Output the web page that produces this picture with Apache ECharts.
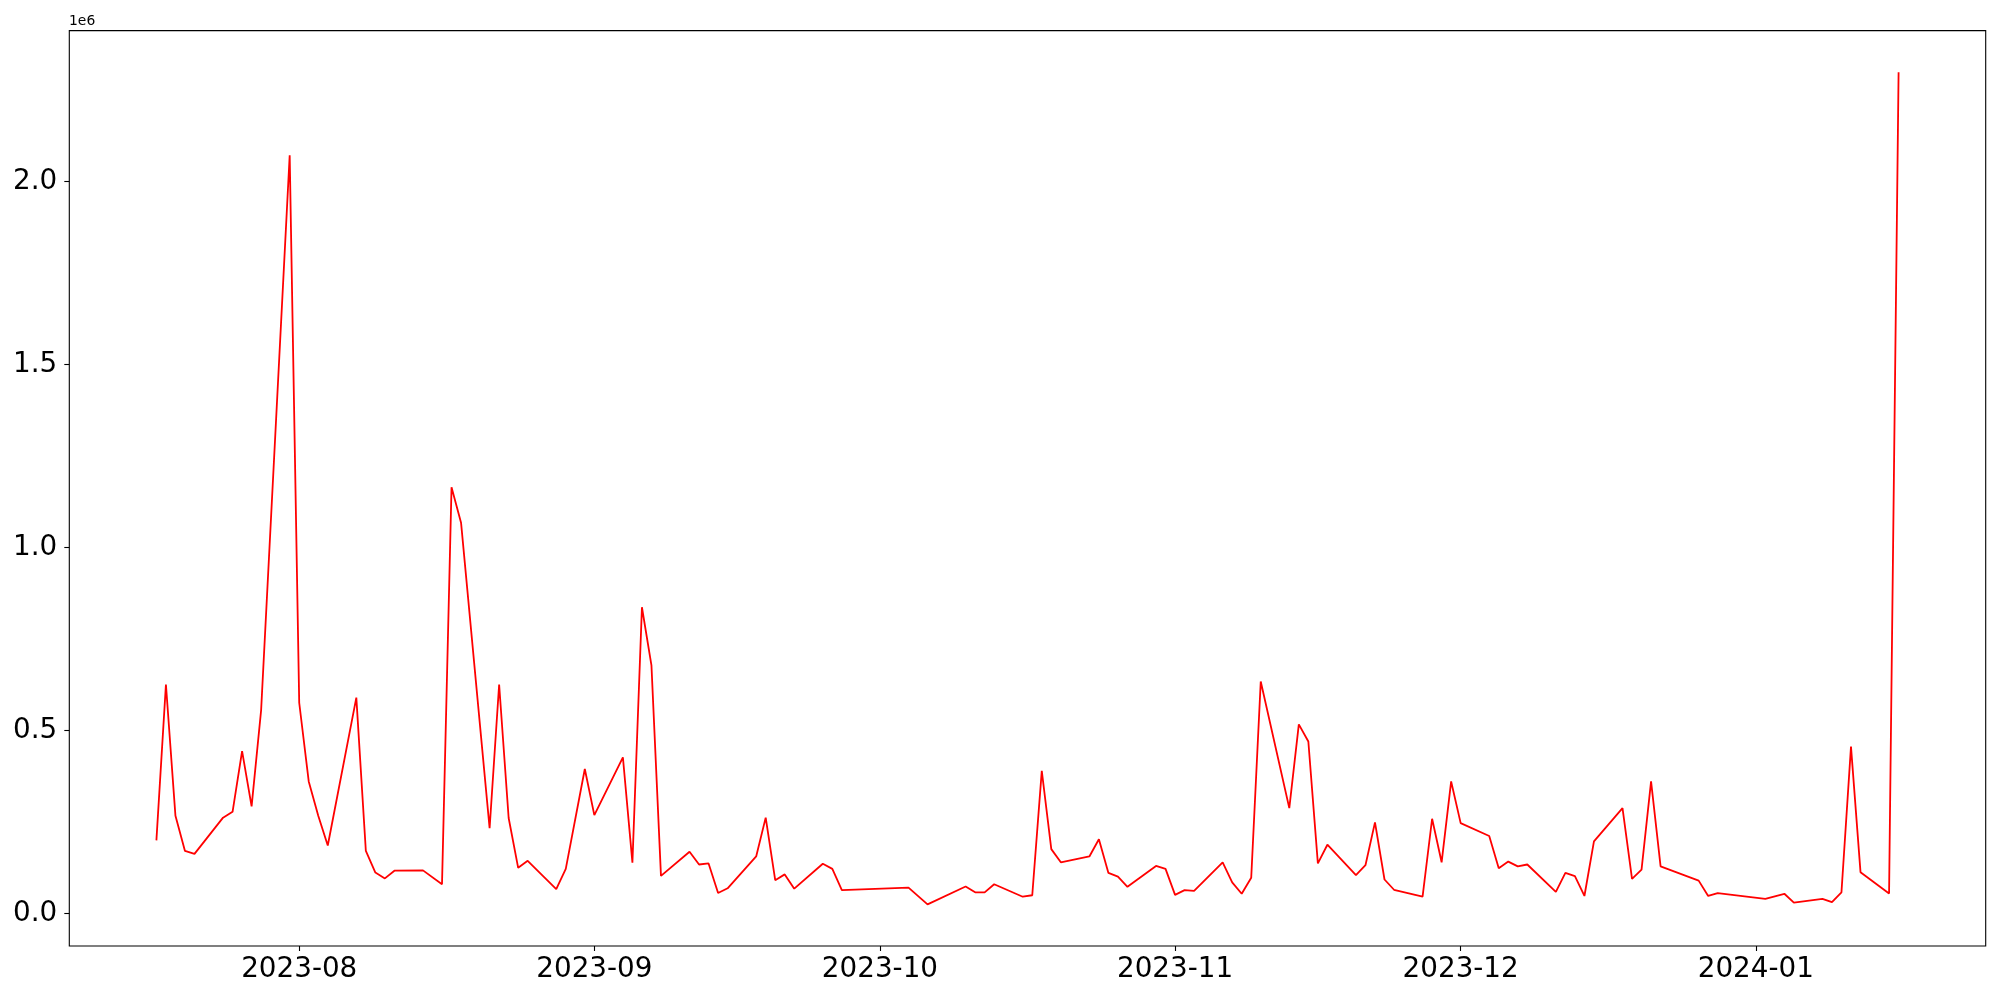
<!DOCTYPE html>
<html>
<head>
<meta charset="utf-8">
<script src="https://cdn.jsdelivr.net/npm/echarts@6/dist/echarts.min.js"></script>
<style>
html,body{margin:0;padding:0;background:#fff;}
#chart{width:2000px;height:1000px;}
</style>
</head>
<body>
<div id="chart"></div>
<script>
const dates = [
'2023-07-17','2023-07-18','2023-07-19','2023-07-20','2023-07-21','2023-07-24','2023-07-25','2023-07-26','2023-07-27','2023-07-28',
'2023-07-31','2023-08-01','2023-08-02','2023-08-03','2023-08-04','2023-08-07','2023-08-08','2023-08-09','2023-08-10','2023-08-11',
'2023-08-14','2023-08-16','2023-08-17','2023-08-18','2023-08-21','2023-08-22','2023-08-23','2023-08-24','2023-08-25','2023-08-28',
'2023-08-29','2023-08-31','2023-09-01','2023-09-04','2023-09-05','2023-09-06','2023-09-07','2023-09-08','2023-09-11','2023-09-12',
'2023-09-13','2023-09-14','2023-09-15','2023-09-18','2023-09-19','2023-09-20','2023-09-21','2023-09-22','2023-09-25','2023-09-26',
'2023-09-27','2023-10-04','2023-10-06','2023-10-10','2023-10-11','2023-10-12','2023-10-13','2023-10-16','2023-10-17','2023-10-18',
'2023-10-19','2023-10-20','2023-10-23','2023-10-24','2023-10-25','2023-10-26','2023-10-27','2023-10-30','2023-10-31','2023-11-01',
'2023-11-02','2023-11-03','2023-11-06','2023-11-07','2023-11-08','2023-11-09','2023-11-10','2023-11-13','2023-11-14','2023-11-15',
'2023-11-16','2023-11-17','2023-11-20','2023-11-21','2023-11-22','2023-11-23','2023-11-24','2023-11-27','2023-11-28','2023-11-29',
'2023-11-30','2023-12-01','2023-12-04','2023-12-05','2023-12-06','2023-12-07','2023-12-08','2023-12-11','2023-12-12','2023-12-13',
'2023-12-14','2023-12-15','2023-12-18','2023-12-19','2023-12-20','2023-12-21','2023-12-22','2023-12-26','2023-12-27','2023-12-28',
'2024-01-02','2024-01-04','2024-01-05','2024-01-08','2024-01-09','2024-01-10','2024-01-11','2024-01-12','2024-01-15','2024-01-16'
];
// values in units of 1e6
const values = [
0.200,0.626,0.267,0.171,0.163,0.262,0.278,0.444,0.293,0.556,
2.072,0.576,0.361,0.267,0.186,0.590,0.171,0.112,0.096,0.117,
0.118,0.080,1.165,1.068,0.233,0.626,0.261,0.125,0.144,0.067,
0.122,0.395,0.269,0.427,0.139,0.837,0.678,0.103,0.169,0.134,
0.137,0.056,0.069,0.156,0.262,0.091,0.107,0.068,0.136,0.122,
0.064,0.071,0.025,0.074,0.058,0.058,0.080,0.046,0.050,0.390,
0.176,0.140,0.156,0.203,0.111,0.101,0.073,0.130,0.122,0.051,
0.064,0.062,0.140,0.085,0.054,0.098,0.634,0.288,0.517,0.470,
0.137,0.188,0.105,0.132,0.249,0.093,0.065,0.046,0.259,0.140,
0.361,0.247,0.212,0.124,0.142,0.129,0.134,0.059,0.111,0.102,
0.048,0.197,0.288,0.095,0.120,0.361,0.129,0.090,0.048,0.056,
0.040,0.054,0.030,0.040,0.031,0.058,0.456,0.113,0.055,2.299
];
const xTickLabels = ['2023-08','2023-09','2023-10','2023-11','2023-12','2024-01'];
const yTickLabels = ['0.0','0.5','1.0','1.5','2.0'];
const yTickValues = [0, 0.5, 1.0, 1.5, 2.0];

function ts(s){ const p = s.split('-').map(Number); return Date.UTC(p[0], p[1]-1, p[2] || 1); }
const xs = dates.map(ts);
const xTickValues = xTickLabels.map(ts);
const seriesData = xs.map((x,i)=>[x, values[i]]);

const xMinD = Math.min(...xs), xMaxD = Math.max(...xs);
const xPad = (xMaxD - xMinD) * 0.05;
const yMinD = Math.min(...values), yMaxD = Math.max(...values);
const yPad = (yMaxD - yMinD) * 0.05;

const FONT = 'DejaVu Sans';
const chart = echarts.init(document.getElementById('chart'));
chart.setOption({
  animation: false,
  backgroundColor: '#ffffff',
  grid: {
    left: 69.3, right: 14.3, top: 30.6, bottom: 54,
    show: true, borderColor: '#000', borderWidth: 1.1, backgroundColor: 'transparent'
  },
  xAxis: {
    type: 'value',
    min: xMinD - xPad, max: xMaxD + xPad,
    splitLine: {show: false},
    axisLine: {show: false, onZero: false},
    axisTick: {show: true, customValues: xTickValues, length: 5, lineStyle: {color: '#000', width: 1.1}},
    axisLabel: {
      customValues: xTickValues,
      color: '#000', fontFamily: FONT, fontSize: 27.8, margin: 10,
      formatter: v => { const i = xTickValues.indexOf(v); return i >= 0 ? xTickLabels[i] : ''; }
    }
  },
  yAxis: {
    type: 'value',
    min: yMinD - yPad, max: yMaxD + yPad,
    splitLine: {show: false},
    axisLine: {show: false, onZero: false},
    axisTick: {show: true, customValues: yTickValues, length: 5, lineStyle: {color: '#000', width: 1.1}},
    axisLabel: {
      customValues: yTickValues,
      color: '#000', fontFamily: FONT, fontSize: 27.8, margin: 12,
      formatter: v => { const i = yTickValues.indexOf(v); return i >= 0 ? yTickLabels[i] : ''; }
    }
  },
  graphic: [{
    type: 'text', left: 69, top: 14,
    style: {text: '1e6', fontFamily: FONT, fontSize: 13.9, fill: '#000'}
  }],
  series: [{
    type: 'line',
    data: seriesData,
    showSymbol: false,
    symbol: 'none',
    lineStyle: {color: '#ff0000', width: 1.8},
    emphasis: {disabled: true}
  }]
});
</script>
</body>
</html>
